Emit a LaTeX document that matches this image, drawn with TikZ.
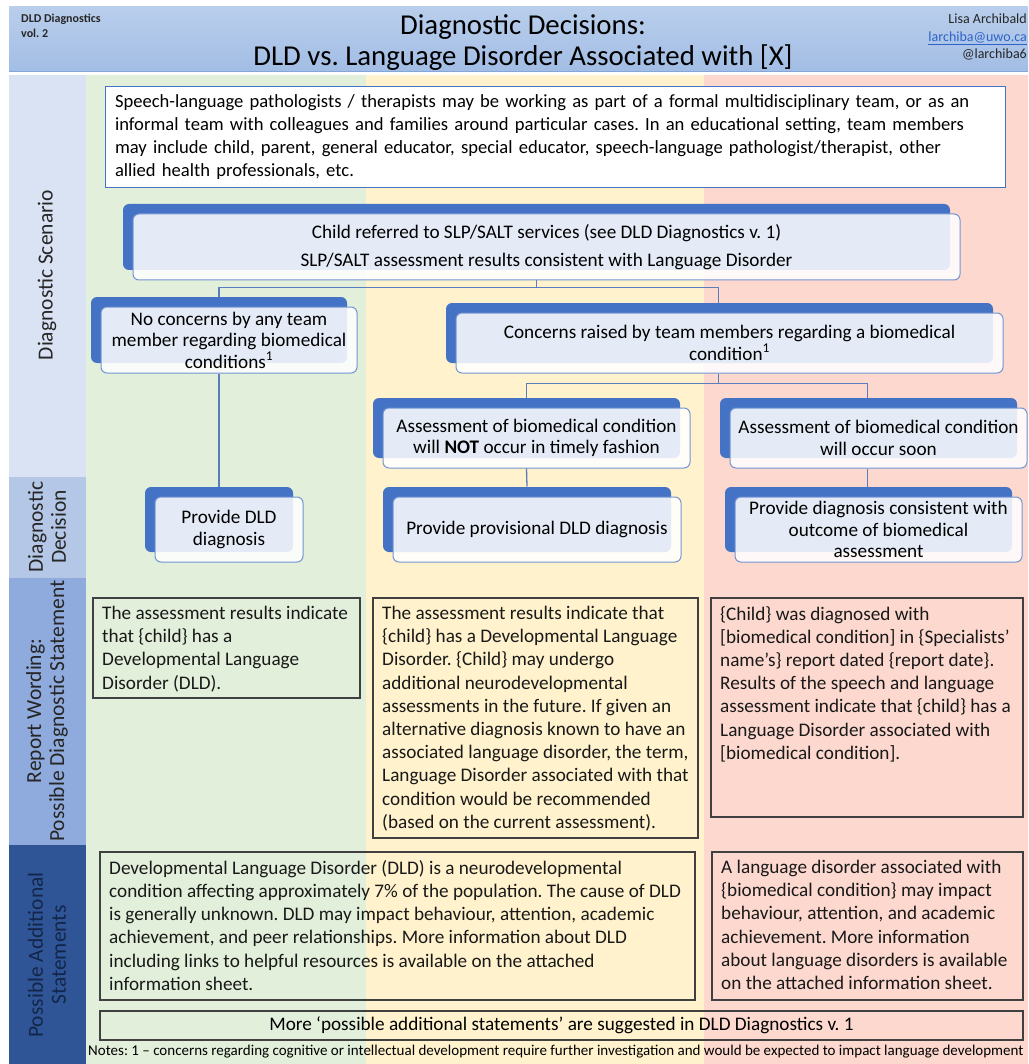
\documentclass[tikz,border=0pt]{standalone}
\usepackage{fontspec}
\setmainfont{Carlito}
\usetikzlibrary{shadows}
\frenchspacing
\definecolor{dldblue}{HTML}{4472C4}
\definecolor{linkcol}{HTML}{5A7DBE}
\definecolor{hdrtop}{HTML}{B9CEEC}
\definecolor{hdrbot}{HTML}{A2BDE4}
\definecolor{hdredge}{HTML}{86A6DA}
\definecolor{sideA}{HTML}{DAE3F3}
\definecolor{sideB}{HTML}{B4C7E7}
\definecolor{sideC}{HTML}{8FAADC}
\definecolor{sideD}{HTML}{2F5597}
\definecolor{sidenavy}{HTML}{13264A}
\definecolor{colgreen}{HTML}{E2EFDA}
\definecolor{colyellow}{HTML}{FFF2CC}
\definecolor{colpink}{HTML}{FCD8CE}
\definecolor{boxgray}{HTML}{404040}
\definecolor{mailblue}{HTML}{2E63C7}
\begin{document}
\begin{tikzpicture}[x=1pt,y=-1pt,
  flow/.style={rectangle,rounded corners=6pt,draw=dldblue!75,line width=1pt,fill=white,fill opacity=0.86,text opacity=1,
    general shadow={fill=dldblue,fill opacity=1,shadow xshift=-10pt,shadow yshift=10pt},
    align=center,inner sep=2pt,font=\fontsize{19.2}{21.5}\selectfont},
  link/.style={draw=linkcol,line width=1.3pt},
  plainbox/.style={draw=boxgray,line width=1.1pt},
  boxtext/.style={anchor=north west,align=left,inner xsep=9pt,inner ysep=8pt,font=\fontsize{19.2}{23.2}\selectfont,text=black!90},
  sidetext/.style={rotate=90,align=center,font=\fontsize{21.5}{23}\selectfont,text=black!85}]
\useasboundingbox (0,0) rectangle (1028,1064);
\shade[top color=hdrtop,bottom color=hdrbot] (9,7) rectangle (1028,72);
\draw[hdredge,line width=1pt] (9,72) -- (1028,72);
\fill[colgreen] (86,75) rectangle (366,1064);
\fill[colyellow] (366,75) rectangle (704,1064);
\fill[colpink] (704,75) rectangle (1028,1064);
\fill[sideA] (9,75) rectangle (86,477);
\fill[sideB] (9,477) rectangle (86,578);
\fill[sideC] (9,578) rectangle (86,845);
\fill[sideD] (9,845) rectangle (86,1064);
\node[anchor=north west,align=left,inner sep=0pt,font=\bfseries\fontsize{12}{15}\selectfont,text=black!85] (series) at (21,14) {DLD Diagnostics\\vol. 2};
\node[align=center,font=\fontsize{28.8}{31}\selectfont] (title) at (523,42.5) {Diagnostic Decisions:\\DLD vs. Language Disorder Associated with [X]};
\node[anchor=north east,align=right,inner sep=0pt,font=\fontsize{14}{17.5}\selectfont,text=black!85] (author) at (1027,14) {Lisa Archibald\\\textcolor{mailblue}{\underline{larchiba@uwo.ca}}\\@larchiba6};
\node[sidetext] (scenario) at (47,275) {Diagnostic Scenario};
\node[sidetext] (decision) at (47,527) {Diagnostic\\Decision};
\node[sidetext] (wording) at (47,711) {Report Wording:\\Possible Diagnostic Statement};
\node[sidetext,text=sidenavy] (additional) at (47,955) {Possible Additional\\Statements};
\node[draw=dldblue,line width=1pt,fill=white,minimum width=900pt,minimum height=101pt,text width=880pt,align=left,font=\fontsize{18.6}{23}\selectfont] (intro) at (555,137.5) {Speech-language pathologists / therapists may be working as part of a formal multidisciplinary team, or as an\\informal team with colleagues and families around particular cases. In an educational setting, team members\\may include child, parent, general educator, special educator, speech-language pathologist/therapist, other\\allied health professionals, etc.};
\node[flow,minimum width=827pt,minimum height=66pt] (referred) at (546.5,247) {Child referred to SLP/SALT services (see DLD Diagnostics v. 1)\\[7pt]SLP/SALT assessment results consistent with Language Disorder};
\node[flow,minimum width=256pt,minimum height=66pt] (noconcern) at (229,340) {No concerns by any team\\member regarding biomedical\\conditions\textsuperscript{1}};
\node[flow,minimum width=547pt,minimum height=60pt] (concern) at (729.5,343) {Concerns raised by team members regarding a biomedical\\condition\textsuperscript{1}};
\node[flow,minimum width=307pt,minimum height=60pt] (notsoon) at (536.5,438) {Assessment of biomedical condition\\will \textbf{NOT} occur in timely fashion};
\node[flow,minimum width=297pt,minimum height=60pt] (soon) at (878.5,438) {Assessment of biomedical condition\\will occur soon};
\node[flow,minimum width=148pt,minimum height=65pt] (dld) at (229,529.5) {Provide DLD\\diagnosis};
\node[flow,minimum width=288pt,minimum height=65pt] (provisional) at (537,529.5) {Provide provisional DLD diagnosis};
\node[flow,minimum width=287pt,minimum height=65pt] (outcome) at (878.5,529.5) {Provide diagnosis consistent with\\outcome of biomedical\\assessment};
\draw[link] ([xshift=-10pt]referred.south) -- ++(0,7) coordinate (forkA) -| ([xshift=-10pt,yshift=10pt]noconcern.north);
\draw[link] (forkA) -| ([xshift=-11pt,yshift=10pt]concern.north);
\draw[link] ([xshift=-11pt]concern.south) -- ++(0,10) coordinate (forkB) -| ([xshift=-10pt,yshift=10pt]notsoon.north);
\draw[link] (forkB) -| ([xshift=-11pt,yshift=10pt]soon.north);
\draw[link] ([xshift=-10pt]noconcern.south) -- ([xshift=-10pt,yshift=10pt]dld.north);
\draw[link] ([xshift=-10pt]notsoon.south) -- ([xshift=-10pt,yshift=10pt]provisional.north);
\draw[link] ([xshift=-11pt]soon.south) -- ([xshift=-11pt,yshift=10pt]outcome.north);
\draw[plainbox] (93,598) rectangle (360,698);
\node[boxtext] (repdld) at (93,598) {The assessment results indicate\\that \{child\} has a\\Developmental Language\\Disorder (DLD).};
\draw[plainbox] (373,598) rectangle (698,838);
\node[boxtext] (repprov) at (373,598) {The assessment results indicate that\\\{child\} has a Developmental Language\\Disorder. \{Child\} may undergo\\additional neurodevelopmental\\assessments in the future. If given an\\alternative diagnosis known to have an\\associated language disorder, the term,\\Language Disorder associated with that\\condition would be recommended\\(based on the current assessment).};
\draw[plainbox] (711,598) rectangle (1023,817);
\node[boxtext] (repbio) at (711,598) {\{Child\} was diagnosed with\\{}[biomedical condition] in \{Specialists’\\name’s\} report dated \{report date\}.\\Results of the speech and language\\assessment indicate that \{child\} has a\\Language Disorder associated with\\{}[biomedical condition].};
\draw[plainbox] (100,852) rectangle (695,1000);
\node[boxtext] (adddld) at (100,852) {Developmental Language Disorder (DLD) is a neurodevelopmental\\condition affecting approximately 7\% of the population. The cause of DLD\\is generally unknown. DLD may impact behaviour, attention, academic\\achievement, and peer relationships. More information about DLD\\including links to helpful resources is available on the attached\\information sheet.};
\draw[plainbox] (712,852) rectangle (1023,1000);
\node[boxtext] (addbio) at (712,852) {A language disorder associated with\\\{biomedical condition\} may impact\\behaviour, attention, and academic\\achievement. More information\\about language disorders is available\\on the attached information sheet.};
\node[plainbox,minimum width=923pt,minimum height=29pt,font=\fontsize{19.2}{20}\selectfont] (more) at (561.5,1025.5) {More ‘possible additional statements’ are suggested in DLD Diagnostics v. 1};
\node[anchor=west,inner sep=0pt,font=\fontsize{15}{16}\selectfont] (notes) at (88,1052) {Notes: 1 – concerns regarding cognitive or intellectual development require further investigation and would be expected to impact language development};
\end{tikzpicture}
\end{document}
